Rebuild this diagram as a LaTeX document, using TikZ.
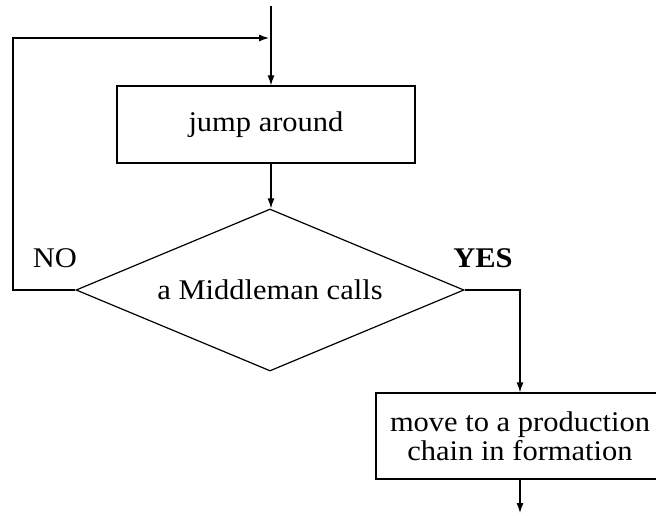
\documentclass[tikz,border=0pt]{standalone}
\usepackage{fontspec}
\setmainfont{Liberation Serif}[FakeStretch=1.07]
\usetikzlibrary{shapes.geometric,arrows.meta}
\begin{document}
\begin{tikzpicture}[x=1pt,y=-1pt,
  line width=1.2pt,
  arr/.style={-{Latex[length=10pt,width=7pt]}},
  txt/.style={font=\fontsize{28.5}{29}\selectfont},
  stepbox/.style={draw,rectangle,inner sep=0pt,txt,align=center},
  decision/.style={draw,diamond,inner sep=0pt,aspect=2.4,txt}]
\useasboundingbox (0,0) rectangle (656,516);
\clip (0,0) rectangle (656,516);
\coordinate (top) at (271,6);
\node[stepbox,minimum width=298pt,minimum height=77pt] (box1) at (266,124.5) {jump around};
\node[decision,minimum width=388pt,minimum height=162pt] (dia) at (270,290) {a Middleman calls};
\node[stepbox,minimum width=288pt,minimum height=86pt] (box2) at (520,436) {move to a production\\chain in formation};
\coordinate (corner) at (13,38);
\coordinate (fb) at (271,38);
\coordinate (end) at (520,513);
\node[txt] (no) at (55,258) {NO};
\node[txt,font=\fontsize{28.5}{29}\selectfont\bfseries] (yes) at (483,258) {YES};
\draw[arr] (top) -- (top |- box1.north);
\draw[arr] (box1.south -| top) -- (dia.north -| top);
\draw[arr,shorten >=2pt] (dia.west) -| (corner) -- (fb);
\draw[arr] (dia.east) -| (box2.north);
\draw[arr] (box2.south) -- (end);
\end{tikzpicture}
\end{document}
